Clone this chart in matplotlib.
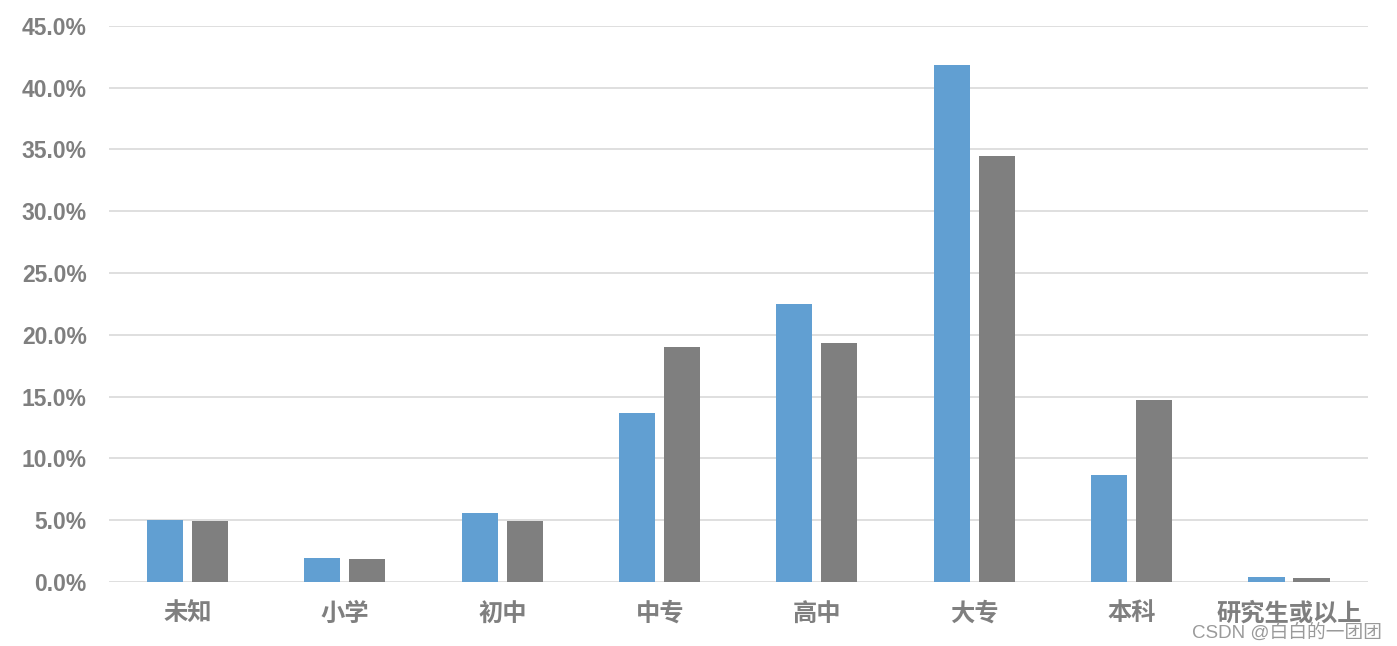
import matplotlib.pyplot as plt
import numpy as np
from matplotlib.ticker import PercentFormatter

categories = ['未知', '小学', '初中', '中专', '高中', '大专', '本科', '研究生或以上']
series_a = [5.05, 1.95, 5.6, 13.65, 22.5, 41.8, 8.7, 0.4]
series_b = [4.9, 1.9, 4.95, 19.05, 19.3, 34.45, 14.7, 0.35]

plt.rcParams['font.family'] = ['Liberation Sans', 'Noto Sans CJK SC', 'DejaVu Sans']

fig = plt.figure(figsize=(13.97, 6.46), dpi=100)
ax = fig.add_axes([0.078, 0.099, 0.901, 0.861])

x = np.arange(len(categories))
w = 0.229
off = 0.143
ax.bar(x - off, np.array(series_a) / 100, w, color='#619fd2', zorder=3)
ax.bar(x + off, np.array(series_b) / 100, w, color='#7f7f7f', zorder=3)

ax.set_xlim(-0.5, len(categories) - 0.5)
ax.set_ylim(0, 0.45)
ax.set_yticks(np.arange(0, 0.451, 0.05))
ax.yaxis.set_major_formatter(PercentFormatter(1.0, decimals=1))
ax.grid(axis='y', color='#d9d9d9', linewidth=1.2, zorder=0)
for s in ax.spines.values():
    s.set_visible(False)
ax.tick_params(length=0)
ax.tick_params(axis='y', pad=16)
ax.tick_params(axis='x', pad=14)

ax.set_xticks(x)
ax.set_xticklabels(categories, fontsize=17.5, fontweight='bold', color='#7f7f7f',
                   family=['Noto Sans CJK SC', 'DejaVu Sans'])
for lab in ax.get_yticklabels():
    lab.set_fontsize(16.5)
    lab.set_fontweight('bold')
    lab.set_color('#7f7f7f')

fig.text(0.853, 0.012, 'CSDN @白白的一团团', fontsize=13.5, color='#9a9a9a',
         family=['Liberation Sans', 'Noto Sans CJK SC'])

fig.savefig('out.png', dpi=100)
